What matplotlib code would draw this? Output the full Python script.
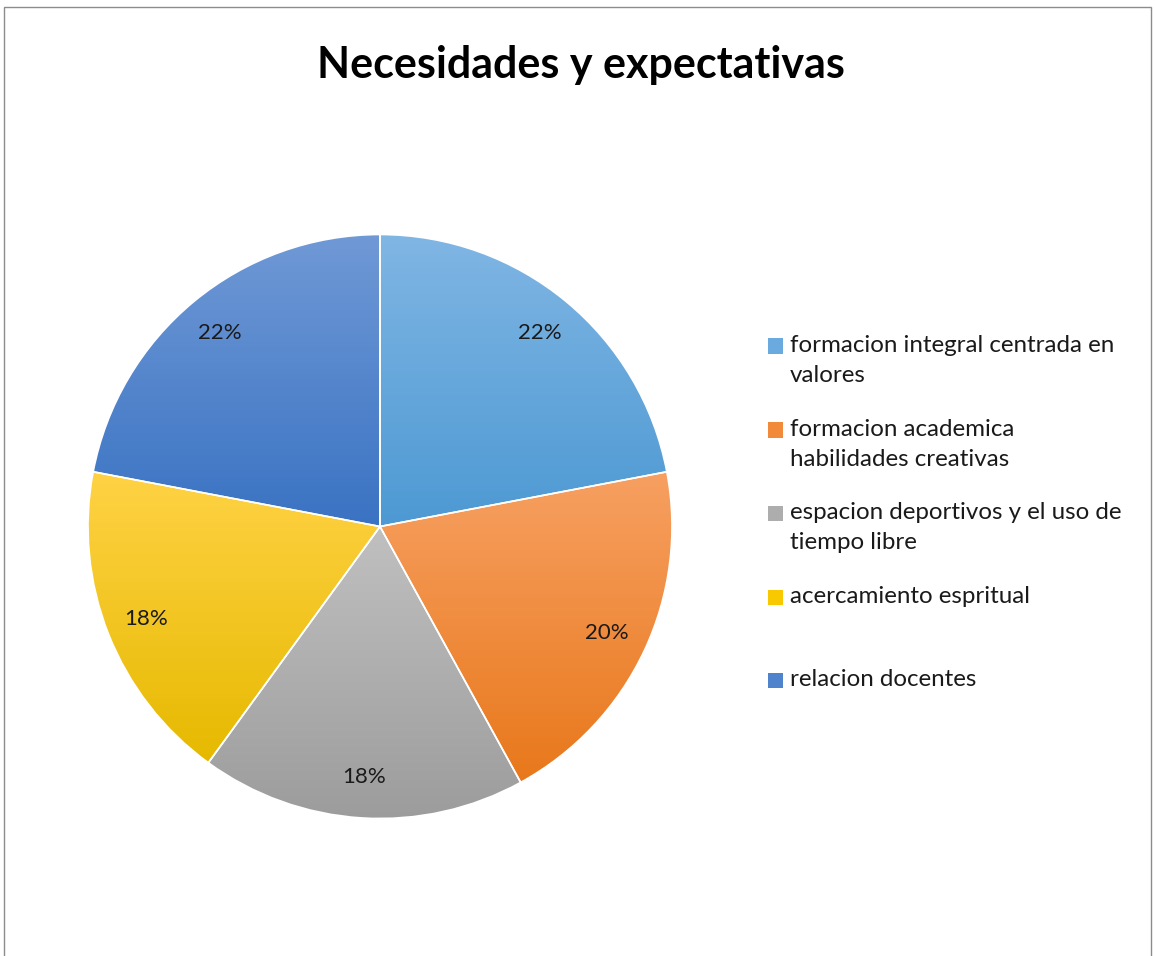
import numpy as np
import matplotlib.pyplot as plt
from matplotlib.colors import LinearSegmentedColormap
from matplotlib.patches import Rectangle

plt.rcParams['font.family'] = ['Lato', 'DejaVu Sans']

title = "Necesidades y expectativas"
categories = ["formacion integral centrada en\nvalores",
              "formacion academica\nhabilidades creativas",
              "espacion deportivos y el uso de\ntiempo libre",
              "acercamiento espritual",
              "relacion docentes"]
values = [22, 20, 18, 18, 22]
# gradient colours, top -> bottom, one pair per slice
top_colors = ["#80b6e4", "#f7a062", "#c0c0c0", "#ffd245", "#7099d6"]
bottom_colors = ["#4d99d3", "#e8781b", "#9c9c9c", "#e6b900", "#3a73c3"]
legend_colors = ["#6aaadf", "#f28a3c", "#adadad", "#f8c800", "#4f84cc"]

fig = plt.figure(figsize=(11.55, 9.56), dpi=100)

# pie, centre (380,526) px, radius 292 px
r_px = 292 * 1.01
ax = fig.add_axes([(380 - r_px) / 1155, (956 - 526.5 - r_px) / 956,
                   2 * r_px / 1155, 2 * r_px / 956])
wedges, texts, autotexts = ax.pie(values, startangle=90, counterclock=False,
                                  autopct='%1.0f%%', pctdistance=0.86,
                                  wedgeprops=dict(edgecolor='white', linewidth=1.2),
                                  textprops=dict(fontsize=16, color='#1a1a1a'))

grad = np.linspace(1, 0, 256).reshape(-1, 1)
for w, c1, c2 in zip(wedges, top_colors, bottom_colors):
    verts = w.get_path().vertices
    x0, x1 = verts[:, 0].min(), verts[:, 0].max()
    y0, y1 = verts[:, 1].min(), verts[:, 1].max()
    cmap = LinearSegmentedColormap.from_list('g', [c2, c1])
    im = ax.imshow(grad, cmap=cmap, extent=[x0, x1, y0, y1], aspect='auto',
                   origin='upper', zorder=1, vmin=0, vmax=1)
    im.set_clip_path(w)
    w.set_facecolor('none')
    w.set_zorder(2)
for t in autotexts:
    t.set_zorder(3)
ax.set_xlim(-1.01, 1.01)
ax.set_ylim(-1.01, 1.01)
ax.axis('off')

fig.text(581 / 1155, 1 - 65 / 956, title, ha='center', va='center',
         fontsize=31, fontweight='bold')

# legend
leg_y = [346, 430, 513, 597, 680]
for lab, col, y in zip(categories, legend_colors, leg_y):
    fig.patches.append(Rectangle((768 / 1155, 1 - (y + 7.5) / 956), 15 / 1155, 15 / 956,
                                 transform=fig.transFigure, facecolor=col,
                                 edgecolor='none'))
    fig.text(790 / 1155, 1 - (y - 11) / 956, lab, ha='left', va='top',
             fontsize=17.4, color='#1a1a1a', linespacing=1.55)

# outer frame
fig.patches.append(Rectangle((4 / 1155, -0.01), 1147 / 1155, (956 - 7) / 956 + 0.01,
                             transform=fig.transFigure, fill=False,
                             edgecolor='#8c8c8c', linewidth=1))

fig.savefig("out.png", dpi=100)
